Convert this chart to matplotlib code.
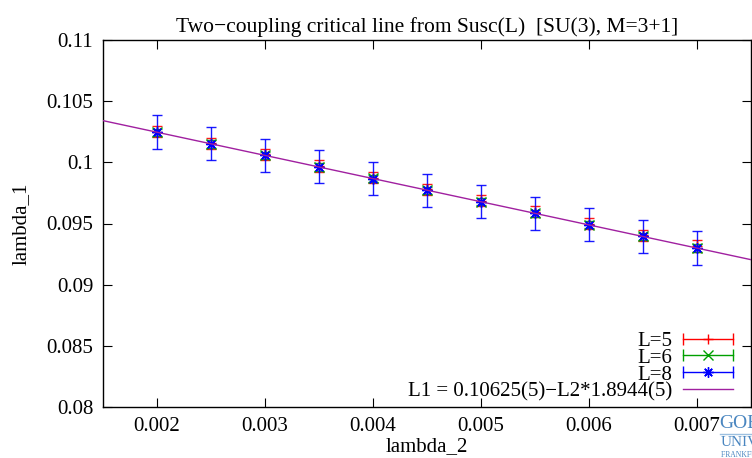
import matplotlib
matplotlib.use("Agg")
import matplotlib.pyplot as plt
from matplotlib.lines import Line2D
from matplotlib.legend_handler import HandlerBase

plt.rcParams['font.family'] = ['Liberation Serif', 'DejaVu Serif']
plt.rcParams['mathtext.default'] = 'regular'

# ---- data ----
lambda2 = [0.002, 0.0025, 0.003, 0.0035, 0.004, 0.0045, 0.005, 0.0055, 0.006, 0.0065, 0.007]
L5_val = [0.10250, 0.10155, 0.10065, 0.09970, 0.09875, 0.09780, 0.09685, 0.09595, 0.09500, 0.09405, 0.09315]
L5_err = [0.00045, 0.00045, 0.00045, 0.00045, 0.00045, 0.00045, 0.00045, 0.00045, 0.00045, 0.00045, 0.00050]
L6_val = [0.10245, 0.10150, 0.10058, 0.09962, 0.09868, 0.09772, 0.09678, 0.09584, 0.09490, 0.09395, 0.09300]
L6_err = [0.00030, 0.00030, 0.00030, 0.00030, 0.00030, 0.00030, 0.00030, 0.00030, 0.00030, 0.00030, 0.00030]
L8_val = [0.10246, 0.10151, 0.10057, 0.09962, 0.09867, 0.09773, 0.09678, 0.09583, 0.09488, 0.09394, 0.09299]
L8_err = [0.00137, 0.00135, 0.00135, 0.00135, 0.00135, 0.00135, 0.00135, 0.00135, 0.00135, 0.00137, 0.00137]
fit_a = 0.10625
fit_b = 1.8944
fit_x = [0.0015, 0.0075]
fit_y = [fit_a - fit_b * x for x in fit_x]

xticks = [0.002, 0.003, 0.004, 0.005, 0.006, 0.007]
xticklabels = ['0.002', '0.003', '0.004', '0.005', '0.006', '0.007']
yticks = [0.08, 0.085, 0.09, 0.095, 0.1, 0.105, 0.11]
yticklabels = ['0.08', '0.085', '0.09', '0.095', '0.1', '0.105', '0.11']

labels = ['L=5', 'L=6', 'L=8', 'L1 = 0.10625(5)\u2212L2*1.8944(5)']
colors = ['#ff0000', '#00a000', '#0000ff', '#a020a0']
markers = ['+', 'x', (8, 2, 0)]

fig = plt.figure(figsize=(7.52, 4.58), dpi=100)
ax = fig.add_axes([103/752, 1 - 407/458, 648/752, 367/458])

series = [(L5_val, L5_err), (L6_val, L6_err), (L8_val, L8_err)]
for (v, e), c, m in zip(series, colors[:3], markers):
    ax.errorbar(lambda2, v, yerr=e, fmt='none', ecolor=c, elinewidth=1.0,
                capsize=3.4, capthick=1.0, alpha=0.9, zorder=3)
for (v, e), c, m in zip(series, colors[:3], markers):
    ax.plot(lambda2, v, ls='none', marker=m, color=c, ms=7.5, mew=1.0, zorder=4)
ax.plot(fit_x, fit_y, color=colors[3], lw=1.0, zorder=5)

ax.set_xlim(0.0015, 0.0075)
ax.set_ylim(0.08, 0.11)
ax.set_xticks(xticks)
ax.set_xticklabels(xticklabels)
ax.set_yticks(yticks)
ax.set_yticklabels(yticklabels)
ax.tick_params(direction='in', top=True, right=True, length=6.5, width=0.8,
               labelsize=15, pad=7)
for s in ax.spines.values():
    s.set_linewidth(1.0)

ax.set_title('Two\u2212coupling critical line from Susc(L)  [SU(3), M=3+1]',
             fontsize=15.5, pad=6)
ax.set_xlabel('lambda_2', fontsize=15, labelpad=1)
ax.set_ylabel('lambda_1', fontsize=15, labelpad=11)


class HBarHandler(HandlerBase):
    def __init__(self, color, marker=None):
        super().__init__()
        self.color = color
        self.marker = marker

    def create_artists(self, legend, orig_handle, xdescent, ydescent, width,
                       height, fontsize, trans):
        y = height / 2 - ydescent
        x0, x1 = -xdescent, width - xdescent
        arts = [Line2D([x0, x1], [y, y], color=self.color, lw=1.0)]
        if self.marker is not None:
            arts.append(Line2D([x0, x1], [y, y], ls='none', marker='|', ms=8,
                               mew=1.0, color=self.color))
            arts.append(Line2D([(x0 + x1) / 2], [y], ls='none', marker=self.marker,
                               ms=7.5, mew=1.0, color=self.color))
        for a in arts:
            a.set_transform(trans)
        return arts


handles = [Line2D([], [], color=c) for c in colors]
hmap = {handles[i]: HBarHandler(colors[i], markers[i] if i < 3 else None)
        for i in range(4)}
leg = ax.legend(handles, labels, handler_map=hmap, loc='lower right',
                bbox_to_anchor=(1 - 18/648, 5.5/367),
                frameon=False, fontsize=15, markerfirst=False,
                handlelength=2.4, handletextpad=0.5, labelspacing=-0.13,
                borderpad=0.0, borderaxespad=0.0)

# logo text (partially cropped at the figure edge)
logo_c = '#4a86c0'
fig.text(719/752, 1 - 424/458, 'GOETHE', color=logo_c, fontsize=14,
         va='center', ha='left')
fig.add_artist(Line2D([720/752, 1.0], [1 - 434/458, 1 - 434/458],
                      color='#9cc0e0', lw=1.0, transform=fig.transFigure))
fig.text(721/752, 1 - 443/458, 'UNIVERSITÄT', color=logo_c, fontsize=11,
         va='center', ha='left')
fig.text(721/752, 1 - 455/458, 'FRANKFURT AM MAIN', color=logo_c, fontsize=5.5,
         va='center', ha='left')

fig.savefig('out.png', dpi=100)
